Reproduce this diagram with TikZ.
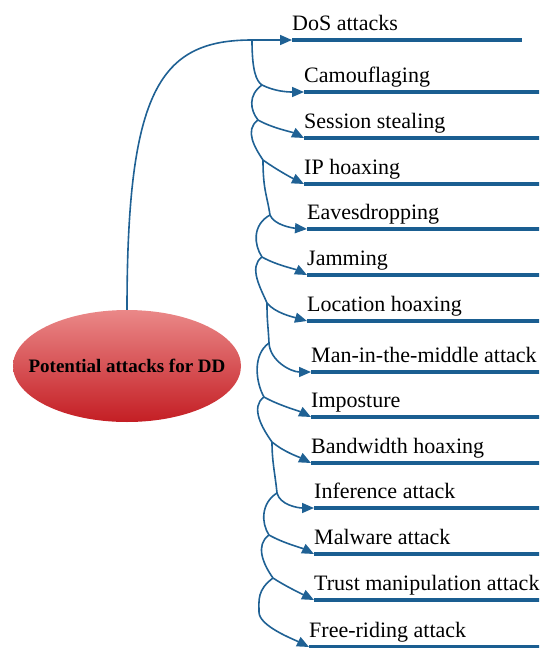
\documentclass[tikz,border=0pt]{standalone}
\usepackage{fontspec}
\setmainfont{Liberation Serif}
\usetikzlibrary{arrows.meta,shapes.geometric}
\definecolor{linkblue}{RGB}{31,97,148}
\definecolor{barblue}{RGB}{26,94,145}
\definecolor{rosetop}{RGB}{234,136,136}
\definecolor{rosebot}{RGB}{196,30,36}
\begin{document}
\begin{tikzpicture}[x=1pt,y=-1pt,
  link/.style={draw=linkblue,line width=1.6pt,-{Triangle[length=12pt,width=10pt]}},
  trunk/.style={draw=linkblue,line width=1.6pt},
  bar/.style={draw=barblue,line width=4.5pt},
  lab/.style={anchor=base west,inner sep=0pt,yshift=9.5pt,font=\fontsize{22}{26}\selectfont},
  hub/.style={ellipse,minimum width=228pt,minimum height=112pt,inner sep=0pt,
    top color=rosetop,bottom color=rosebot},
  hubtext/.style={inner sep=0pt,font=\fontsize{19}{22}\selectfont\bfseries}]
\useasboundingbox (0,0) rectangle (539,648);
\clip (0,0) rectangle (539,648);

% central topic
\node[hub] (hub) at (127,366) {};
\node[hubtext] (hubtext) at (hub.center) {Potential attacks for DD};

% bar starts (arrow tips)
\coordinate (t1) at (292,40);
\coordinate (t2) at (304,92);
\coordinate (t3) at (304,138);
\coordinate (t4) at (304,184);
\coordinate (t5) at (307,229);
\coordinate (t6) at (307,275);
\coordinate (t7) at (307,321);
\coordinate (t8) at (311,372);
\coordinate (t9) at (311,417);
\coordinate (t10) at (311,463);
\coordinate (t11) at (314,508);
\coordinate (t12) at (314,554);
\coordinate (t13) at (314,600);
\coordinate (t14) at (309,647);
\coordinate (e1) at (522,40);
\coordinate (re) at (560,0);

% branch points
\coordinate (j0) at (252,40);
\coordinate (j1a) at (262,85);
\coordinate (j2a) at (258,120);
\coordinate (j3a) at (263,160);
\coordinate (j1b) at (270,215);
\coordinate (j2b) at (262,257);
\coordinate (j3b) at (267,303);
\coordinate (j1c) at (269,343);
\coordinate (j2c) at (264,397);
\coordinate (j3c) at (272,442);
\coordinate (j1d) at (277,493);
\coordinate (j2d) at (269,535);
\coordinate (j3d) at (273,578);
\coordinate (k14) at (259,612);

% bars
\draw[bar] (t1) -- (e1);
\foreach \i in {2,...,14} \draw[bar] (t\i) -- (t\i -| re);

% labels
\node[lab] (l1) at (t1) {DoS attacks};
\node[lab] (l2) at (t2) {Camouflaging};
\node[lab] (l3) at (t3) {Session stealing};
\node[lab] (l4) at (t4) {IP hoaxing};
\node[lab] (l5) at (t5) {Eavesdropping};
\node[lab] (l6) at (t6) {Jamming};
\node[lab] (l7) at (t7) {Location hoaxing};
\node[lab] (l8) at (t8) {Man-in-the-middle attack};
\node[lab] (l9) at (t9) {Imposture};
\node[lab] (l10) at (t10) {Bandwidth hoaxing};
\node[lab] (l11) at (t11) {Inference attack};
\node[lab] (l12) at (t12) {Malware attack};
\node[lab] (l13) at (t13) {Trust manipulation attack};
\node[lab] (l14) at (t14) {Free-riding attack};

% main connector
\draw[link] (hub.north) .. controls +(0,-220) and +(-92,0) .. (j0) -- (t1);

% first group
\draw[link] (j0) .. controls +(0,30) and +(-6,-4) .. (j1a) .. controls +(12,6) and +(-18,0) .. (t2);
\draw[link] (j1a) .. controls +(-14,10) and +(-8,-10) .. (j2a) .. controls +(14,8) and +(-12,-6) .. (t3);
\draw[link] (j2a) .. controls +(-14,10) and +(-8,-12) .. (j3a) .. controls +(14,10) and +(-12,-6) .. (t4);

% second group
\draw[trunk] (j3a) .. controls +(0,30) and +(-3,-20) .. (j1b);
\draw[link] (j1b) .. controls +(4,10) and +(-15,-1) .. (t5);
\draw[link] (j1b) .. controls +(-18,10) and +(-8,-12) .. (j2b) .. controls +(14,8) and +(-12,-6) .. (t6);
\draw[link] (j2b) .. controls +(-14,10) and +(-6,-14) .. (j3b) .. controls +(8,10) and +(-14,-4) .. (t7);

% third group
\draw[trunk] (j3b) .. controls +(0,20) and +(-1,-20) .. (j1c);
\draw[link] (j1c) .. controls +(1,18) and +(-20,0) .. (t8);
\draw[link] (j1c) .. controls +(-17,12) and +(-8,-14) .. (j2c) .. controls +(14,8) and +(-12,-6) .. (t9);
\draw[link] (j2c) .. controls +(-14,10) and +(-10,-14) .. (j3c) .. controls +(12,10) and +(-12,-6) .. (t10);

% fourth group
\draw[trunk] (j3c) .. controls +(0,20) and +(-2,-20) .. (j1d);
\draw[link] (j1d) .. controls +(3,12) and +(-16,0) .. (t11);
\draw[link] (j1d) .. controls +(-16,10) and +(-8,-12) .. (j2d) .. controls +(14,8) and +(-12,-6) .. (t12);
\draw[link] (j2d) .. controls +(-14,10) and +(-10,-14) .. (j3d) .. controls +(12,8) and +(-12,-6) .. (t13);
\draw[link] (j3d) .. controls +(-16,12) and +(0,-12) .. (k14) .. controls +(0,14) and +(-16,-8) .. (t14);
\end{tikzpicture}
\end{document}
